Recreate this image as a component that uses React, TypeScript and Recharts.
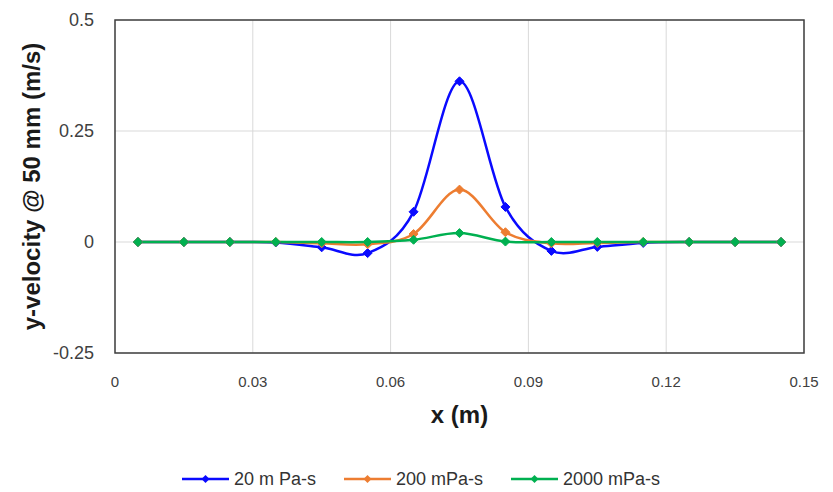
import { LineChart, Line, XAxis, YAxis, CartesianGrid, Legend, ReferenceArea } from 'recharts';

// sample positions across the channel (m)
const xPositions = [0.005, 0.015, 0.025, 0.035, 0.045, 0.055, 0.065, 0.075, 0.085, 0.095, 0.105, 0.115, 0.125, 0.135, 0.145];

// y-velocity at 50 mm for each fluid viscosity (m/s)
const vel20 = [0, 0, 0, -0.001, -0.012, -0.025, 0.068, 0.362, 0.079, -0.02, -0.011, -0.002, 0, 0, 0];
const vel200 = [0, 0, 0, 0, -0.003, -0.005, 0.018, 0.118, 0.022, -0.003, -0.002, 0, 0, 0, 0];
const vel2000 = [0, 0, 0, 0, 0, 0, 0.005, 0.02, 0.001, 0, 0, 0, 0, 0, 0];

const xTicks = [0, 0.03, 0.06, 0.09, 0.12, 0.15];
const yTicks = [-0.25, 0, 0.25, 0.5];

const seriesNames = ['20 m Pa-s', '200 mPa-s', '2000 mPa-s'];
const seriesColors = ['#0a0aff', '#ed7d31', '#00b050'];

const chartData = xPositions.map((x, i) => ({
  x,
  v20: vel20[i],
  v200: vel200[i],
  v2000: vel2000[i],
}));

const FONT = '"Liberation Sans", Arial, sans-serif';

// Excel-style smoothed line: uniform Catmull-Rom segments drawn as cubic beziers
const smoothCurve = (context: any) => {
  let pts: number[][] = [];
  return {
    areaStart() {},
    areaEnd() {},
    lineStart() {
      pts = [];
    },
    lineEnd() {
      if (!pts.length) return;
      context.moveTo(pts[0][0], pts[0][1]);
      for (let i = 0; i < pts.length - 1; i++) {
        const p0 = pts[Math.max(i - 1, 0)];
        const p1 = pts[i];
        const p2 = pts[i + 1];
        const p3 = pts[Math.min(i + 2, pts.length - 1)];
        context.bezierCurveTo(
          p1[0] + (p2[0] - p0[0]) / 6,
          p1[1] + (p2[1] - p0[1]) / 6,
          p2[0] - (p3[0] - p1[0]) / 6,
          p2[1] - (p3[1] - p1[1]) / 6,
          p2[0],
          p2[1]
        );
      }
    },
    point(x: number, y: number) {
      pts.push([+x, +y]);
    },
  };
};

const diamondDot = (color: string) => (props: any) => {
  const { cx, cy, index } = props;
  if (cx == null || cy == null) return <g key={index} />;
  const r = 4.5;
  return (
    <polygon
      key={index}
      points={`${cx},${cy - r} ${cx + r},${cy} ${cx},${cy + r} ${cx - r},${cy}`}
      fill={color}
      stroke={color}
      strokeWidth={1}
    />
  );
};

const ViscosityLegend = () => (
  <div
    style={{
      display: 'flex',
      justifyContent: 'center',
      alignItems: 'center',
      height: 26,
      gap: 28,
      fontFamily: FONT,
      fontSize: 18,
      color: '#333333',
      paddingLeft: 38,
    }}
  >
    {seriesNames.map((name, i) => (
      <div key={name} style={{ display: 'flex', alignItems: 'center', gap: 5 }}>
        <svg width={47} height={10}>
          <line x1={0} y1={5} x2={47} y2={5} stroke={seriesColors[i]} strokeWidth={2.5} />
          <polygon points="23.5,1 27.5,5 23.5,9 19.5,5" fill={seriesColors[i]} />
        </svg>
        <span>{name}</span>
      </div>
    ))}
  </div>
);

export default function App() {
  const dataKeys = ['v20', 'v200', 'v2000'];
  return (
    <div style={{ position: 'absolute', left: 0, top: 0, background: '#fff' }}>
      <LineChart
        width={833}
        height={492}
        data={chartData}
        margin={{ top: 20, right: 29, left: 0, bottom: 0 }}
      >
        <CartesianGrid stroke="#d9d9d9" strokeWidth={1} />
        <XAxis
          dataKey="x"
          type="number"
          domain={[0, 0.15]}
          ticks={xTicks}
          interval={0}
          tickFormatter={(v: number) => String(v)}
          axisLine={false}
          tickLine={false}
          tickMargin={17}
          height={113}
          tick={{ fontSize: 15, fill: '#404040', fontFamily: '"Liberation Sans Narrow", "Liberation Sans", sans-serif' }}
          label={{
            value: 'x (m)',
            position: 'insideTop',
            offset: 53,
            style: { fontSize: 24, fontWeight: 'bold', fill: '#1a1a1a', fontFamily: FONT },
          }}
        />
        <YAxis
          type="number"
          domain={[-0.25, 0.5]}
          ticks={yTicks}
          interval={0}
          tickFormatter={(v: number) => String(v)}
          axisLine={false}
          tickLine={false}
          tickMargin={15}
          width={115}
          tick={{ fontSize: 18, fill: '#404040', fontFamily: FONT }}
          label={{
            value: 'y-velocity @ 50 mm (m/s)',
            angle: -90,
            position: 'insideLeft',
            offset: 31,
            style: { textAnchor: 'middle', fontSize: 24, fontWeight: 'bold', fill: '#1a1a1a', fontFamily: FONT },
          }}
        />
        <ReferenceArea
          x1={0}
          x2={0.15}
          y1={-0.25}
          y2={0.5}
          fill="none"
          stroke="#404040"
          strokeWidth={1.5}
        />
        {dataKeys.map((key, i) => (
          <Line
            key={key}
            dataKey={key}
            name={seriesNames[i]}
            type={smoothCurve as any}
            stroke={seriesColors[i]}
            strokeWidth={2.5}
            dot={diamondDot(seriesColors[i])}
            activeDot={false}
            isAnimationActive={false}
          />
        ))}
        <Legend verticalAlign="bottom" height={26} content={<ViscosityLegend />} />
      </LineChart>
    </div>
  );
}
